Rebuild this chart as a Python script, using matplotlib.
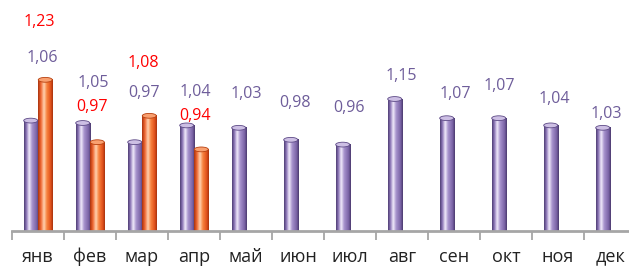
import numpy as np
import matplotlib.pyplot as plt
from matplotlib.colors import LinearSegmentedColormap
from matplotlib.patches import Ellipse

months = ["янв", "фев", "мар", "апр", "май", "июн", "июл", "авг", "сен", "окт", "ноя", "дек"]
prev_year = [1.06, 1.05, 0.97, 1.04, 1.03, 0.98, 0.96, 1.15, 1.07, 1.07, 1.04, 1.03]
this_year = [1.23, 0.97, 1.08, 0.94]

# label offsets above the bar top, in pixels (labels were placed by hand in the original)
prev_dy = [63, 40, 49, 33, 34, 37, 37, 23, 24, 32, 26, 14]
this_dy = [58, 35, 53, 33]
prev_dx = [4, 3, 2, 1, 0, -3, -1, -1, 1, -7, -4, -4]
this_dx = [1, 2, 1, 1]

purple_cm = LinearSegmentedColormap.from_list("p", [
    (0.0, "#4f3e74"), (0.15, "#8a74b6"), (0.35, "#f1eafb"),
    (0.55, "#a692cc"), (0.85, "#7a63a6"), (1.0, "#4a3a6e")])
orange_cm = LinearSegmentedColormap.from_list("o", [
    (0.0, "#a8330e"), (0.18, "#ee6530"), (0.4, "#ffd2b0"),
    (0.6, "#f7823e"), (0.85, "#e2521c"), (1.0, "#a8330e")])

fig = plt.figure(figsize=(6.29, 2.71), dpi=100)
ax = fig.add_axes([12 / 629, 40 / 271, 624 / 629, 231 / 271])

x = np.arange(len(months))
w = 0.27
grad = np.linspace(0, 1, 64).reshape(1, -1)
ymin, ymax = 0.6, 1.5625

def cyl_bars(xs, vals, cmap, cap, edge):
    bars = ax.bar(xs, np.array(vals) - ymin, w, bottom=ymin,
                  facecolor="none", edgecolor="none")
    for b in bars:
        x0, x1 = b.get_x(), b.get_x() + b.get_width()
        top = b.get_y() + b.get_height()
        ax.imshow(grad, extent=[x0, x1, ymin, top], aspect="auto",
                  cmap=cmap, zorder=2, interpolation="bilinear")
        ax.add_patch(Ellipse((b.get_x() + b.get_width() / 2, top), b.get_width(), 0.02,
                             facecolor=cap, edgecolor=edge, lw=0.6, zorder=3))
    return bars

cyl_bars(x - 0.14, prev_year, purple_cm, "#cdbfe4", "#5d4a86")
cyl_bars(x[:len(this_year)] + 0.14, this_year, orange_cm, "#f9a070", "#b7400f")

for i, v in enumerate(prev_year):
    ax.annotate(f"{v:.2f}".replace(".", ","), (x[i], v), xytext=(prev_dx[i], prev_dy[i]),
                textcoords="offset pixels", ha="center", va="center",
                fontsize=11.5, color="#6e5d9a", family="Open Sans")
for i, v in enumerate(this_year):
    ax.annotate(f"{v:.2f}".replace(".", ","), (x[i], v), xytext=(this_dx[i], this_dy[i]),
                textcoords="offset pixels", ha="center", va="center",
                fontsize=11.5, color="#ff0000", family="Open Sans")

ax.set_xlim(-0.5, 11.5)
ax.set_ylim(ymin, ymax)
for s in ["top", "left", "right"]:
    ax.spines[s].set_visible(False)
ax.spines["bottom"].set_color("#a6a6a6")
ax.spines["bottom"].set_linewidth(2)
ax.spines["bottom"].set_zorder(4)
ax.set_yticks([])
ax.set_xticks(np.arange(-0.5, 12, 1))
ax.set_xticklabels([])
ax.tick_params(axis="x", which="major", length=6.5, width=1.3, color="#a6a6a6")
ax.set_xticks(x, minor=True)
ax.set_xticklabels(months, minor=True, fontsize=13, family="Open Sans", color="#222222")
ax.tick_params(axis="x", which="minor", length=0, pad=12)

fig.savefig("out.png", dpi=100)
